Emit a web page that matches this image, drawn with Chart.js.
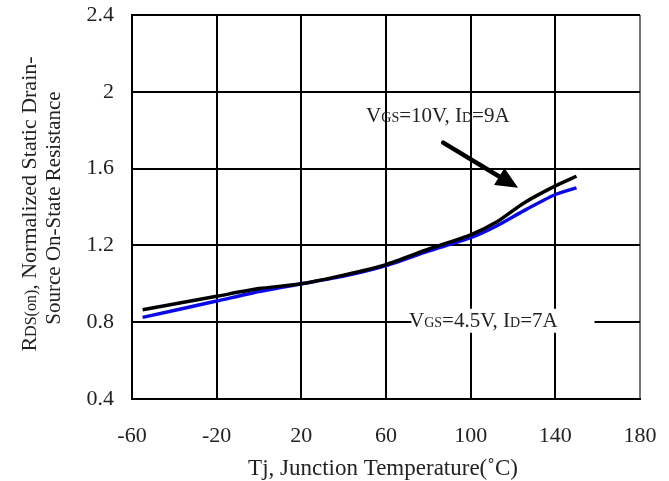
<!DOCTYPE html>
<html>
<head>
<meta charset="utf-8">
<script src="https://cdn.jsdelivr.net/npm/chart.js@4.4.0/dist/chart.umd.min.js"></script>
<style>
  html, body { margin: 0; padding: 0; background: #fff; }
  #wrap { width: 669px; height: 481px; }
</style>
</head>
<body>
<div id="wrap"><canvas id="chart" width="669" height="481"></canvas></div>
<script>
// Tj (deg C) and normalized RDS(on)
const temps = [-55, -20, 0, 20, 40, 60, 80, 100, 112, 125, 140, 150];
const rds10V = [0.865, 0.935, 0.975, 1.0, 1.045, 1.10, 1.18, 1.255, 1.32, 1.42, 1.51, 1.56];
const rds45V = [0.825, 0.91, 0.96, 1.0, 1.04, 1.095, 1.17, 1.24, 1.30, 1.38, 1.465, 1.50];
const xTicks = [-60, -20, 20, 60, 100, 140, 180];
const yTicks = [0.4, 0.8, 1.2, 1.6, 2.0, 2.4];

const serif = '"Liberation Serif", "Times New Roman", serif';

function toPoints(xs, ys) {
  return xs.map((x, i) => ({ x: x, y: ys[i] }));
}

// draws runs of text with different font sizes on one baseline, centred on x
function drawRuns(ctx, runs, x, y) {
  let total = 0;
  runs.forEach(r => {
    ctx.font = r[1] + 'px ' + serif;
    total += ctx.measureText(r[0]).width;
  });
  let cx = x - total / 2;
  ctx.textAlign = 'left';
  ctx.textBaseline = 'alphabetic';
  runs.forEach(r => {
    ctx.font = r[1] + 'px ' + serif;
    ctx.fillText(r[0], cx, y);
    cx += ctx.measureText(r[0]).width;
  });
}

const notes = {
  id: 'notes',
  afterDraw(chart) {
    const ctx = chart.ctx;
    const xs = chart.scales.x, ys = chart.scales.y;
    ctx.save();

    // label for the 4.5V curve sits in a white box over the grid
    const bx0 = xs.getPixelForValue(72), bx1 = xs.getPixelForValue(158.5);
    const by0 = ys.getPixelForValue(0.87), by1 = ys.getPixelForValue(0.745);
    ctx.fillStyle = '#fff';
    ctx.fillRect(bx0, by0, bx1 - bx0, by1 - by0);
    ctx.fillStyle = '#222';
    drawRuns(ctx, [['V', 21], ['GS', 14], ['=4.5V, I', 21], ['D', 14], ['=7A', 21]],
      xs.getPixelForValue(106), ys.getPixelForValue(0.775));

    drawRuns(ctx, [['V', 21], ['GS', 14], ['=10V, I', 21], ['D', 14], ['=9A', 21]],
      xs.getPixelForValue(84.5), ys.getPixelForValue(1.843));

    // arrow
    const ax0 = xs.getPixelForValue(87), ay0 = ys.getPixelForValue(1.735);
    const ax1 = xs.getPixelForValue(122.4), ay1 = ys.getPixelForValue(1.5);
    const ang = Math.atan2(ay1 - ay0, ax1 - ax0);
    const headLen = 22, headW = 10;
    const bx = ax1 - headLen * Math.cos(ang), by = ay1 - headLen * Math.sin(ang);
    ctx.strokeStyle = '#000';
    ctx.lineWidth = 4.5;
    ctx.lineCap = 'round';
    ctx.beginPath();
    ctx.moveTo(ax0, ay0);
    ctx.lineTo(bx, by);
    ctx.stroke();
    ctx.fillStyle = '#000';
    ctx.beginPath();
    ctx.moveTo(ax1, ay1);
    ctx.lineTo(bx + headW * Math.sin(ang), by - headW * Math.cos(ang));
    ctx.lineTo(bx - headW * Math.sin(ang), by + headW * Math.cos(ang));
    ctx.closePath();
    ctx.fill();

    // axis titles
    ctx.fillStyle = '#222';
    drawRuns(ctx, [['Tj, Junction Temperature(\u02DAC)', 23]], 383, 475);

    ctx.translate(0, 204);
    ctx.rotate(-Math.PI / 2);
    drawRuns(ctx, [['R', 22], ['DS(on)', 16], [', Normalized Static Drain-', 22]], 0, 36);
    drawRuns(ctx, [['Source On-State Resistance', 21]], -4, 60);
    ctx.restore();
  }
};

new Chart(document.getElementById('chart'), {
  type: 'line',
  data: {
    datasets: [
      {
        label: 'VGS=10V, ID=9A',
        data: toPoints(temps, rds10V),
        borderColor: '#000',
        borderWidth: 3.5,
        pointRadius: 0,
        tension: 0.2,
        order: 0
      },
      {
        label: 'VGS=4.5V, ID=7A',
        data: toPoints(temps, rds45V),
        borderColor: '#0a0ae6',
        borderWidth: 3.5,
        pointRadius: 0,
        tension: 0.2,
        order: 1
      }
    ]
  },
  options: {
    responsive: false,
    animation: false,
    devicePixelRatio: 1,
    layout: { padding: { top: 15, right: 29, left: 0, bottom: 0 } },
    plugins: { legend: { display: false }, tooltip: { enabled: false } },
    scales: {
      x: {
        type: 'linear',
        min: -60,
        max: 180,
        afterFit(s) { s.height = 82; s.paddingLeft = 0; s.paddingRight = 0; },
        afterBuildTicks(s) { s.ticks = xTicks.map(v => ({ value: v })); },
        grid: {
          color: ctx => ctx.tick && ctx.tick.value === 180 ? '#777' : '#000',
          lineWidth: 2,
          drawTicks: false
        },
        border: { color: '#000', width: 2 },
        ticks: {
          padding: 24,
          color: '#222',
          font: { family: serif, size: 22 },
          maxRotation: 0
        }
      },
      y: {
        min: 0.4,
        max: 2.4,
        afterFit(s) { s.width = 132; s.paddingTop = 0; s.paddingBottom = 0; },
        afterBuildTicks(s) { s.ticks = yTicks.map(v => ({ value: v })); },
        grid: { color: '#000', lineWidth: 2, drawTicks: false },
        border: { color: '#000', width: 2 },
        ticks: {
          padding: 18,
          color: '#222',
          font: { family: serif, size: 22 },
          callback: v => String(+v.toFixed(1))
        }
      }
    }
  },
  plugins: [notes]
});
</script>
</body>
</html>
